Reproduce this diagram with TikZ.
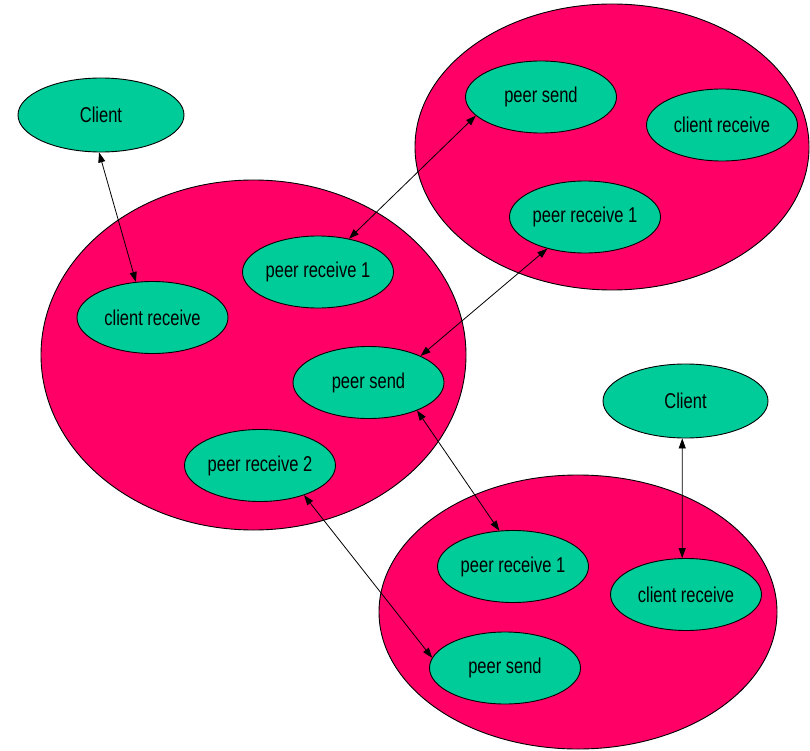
\documentclass[tikz,border=0pt]{standalone}
\usepackage{fontspec}
\usepackage{graphicx}
\setmainfont{Liberation Sans}
\usetikzlibrary{shapes.geometric,arrows.meta}
\definecolor{pinkfill}{HTML}{FF0066}
\definecolor{greenfill}{HTML}{00CC99}
\newcommand{\lbl}[1]{\scalebox{1}[1.3]{#1}}
\tikzset{
  bigblob/.style={ellipse, draw=black, line width=0.9pt, fill=pinkfill, inner sep=0pt},
  proc/.style={ellipse, draw=black, line width=0.9pt, fill=greenfill, inner sep=0pt,
    minimum width=151pt, minimum height=72pt, font=\fontsize{16.5}{20}\selectfont},
  clientnode/.style={proc, minimum width=166pt, minimum height=74pt},
  link/.style={draw=black, line width=0.8pt, {Triangle[length=10pt,width=7pt]}-{Triangle[length=10pt,width=7pt]}}
}
\begin{document}
\begin{tikzpicture}[x=1pt,y=-1pt]
\useasboundingbox (0,0) rectangle (810,751);
% big ellipses
\node[bigblob, minimum width=394pt, minimum height=286pt] (gTR) at (612,147) {};
\node[bigblob, minimum width=425pt, minimum height=350pt] (gL) at (253.5,355) {};
\node[bigblob, minimum width=398pt, minimum height=274pt] (gB) at (578,612) {};
% clients
\node[clientnode] (cTL) at (101,115) {\lbl{Client}};
\node[clientnode, minimum width=165pt] (cBR) at (685.5,401) {\lbl{Client}};
% top-right group
\node[proc] (trSend) at (541,97) {\lbl{peer send}};
\node[proc] (trCR) at (722,125) {\lbl{client receive}};
\node[proc] (trPR1) at (585,217) {\lbl{peer receive 1}};
% left group
\node[proc] (lPR1) at (318,272) {\lbl{peer receive 1}};
\node[proc] (lCR) at (152.5,317.5) {\lbl{client receive}};
\node[proc] (lSend) at (368.5,382.5) {\lbl{peer send}};
\node[proc] (lPR2) at (260,465.5) {\lbl{peer receive 2}};
% bottom group
\node[proc] (bPR1) at (513,566.5) {\lbl{peer receive 1}};
\node[proc] (bCR) at (686,594.5) {\lbl{client receive}};
\node[proc] (bSend) at (505,668) {\lbl{peer send}};
% connectors
\draw[link] (cTL.-93) -- (lCR.115);
\draw[link] (trSend.-164) -- (lPR1.47);
\draw[link] (trPR1.-140) -- (lSend.27);
\draw[link] (lSend.-30) -- (bPR1.111);
\draw[link] (lPR2.-34) -- (bSend.172);
\draw[link] (cBR.-95) -- (bCR.96);
\end{tikzpicture}
\end{document}
